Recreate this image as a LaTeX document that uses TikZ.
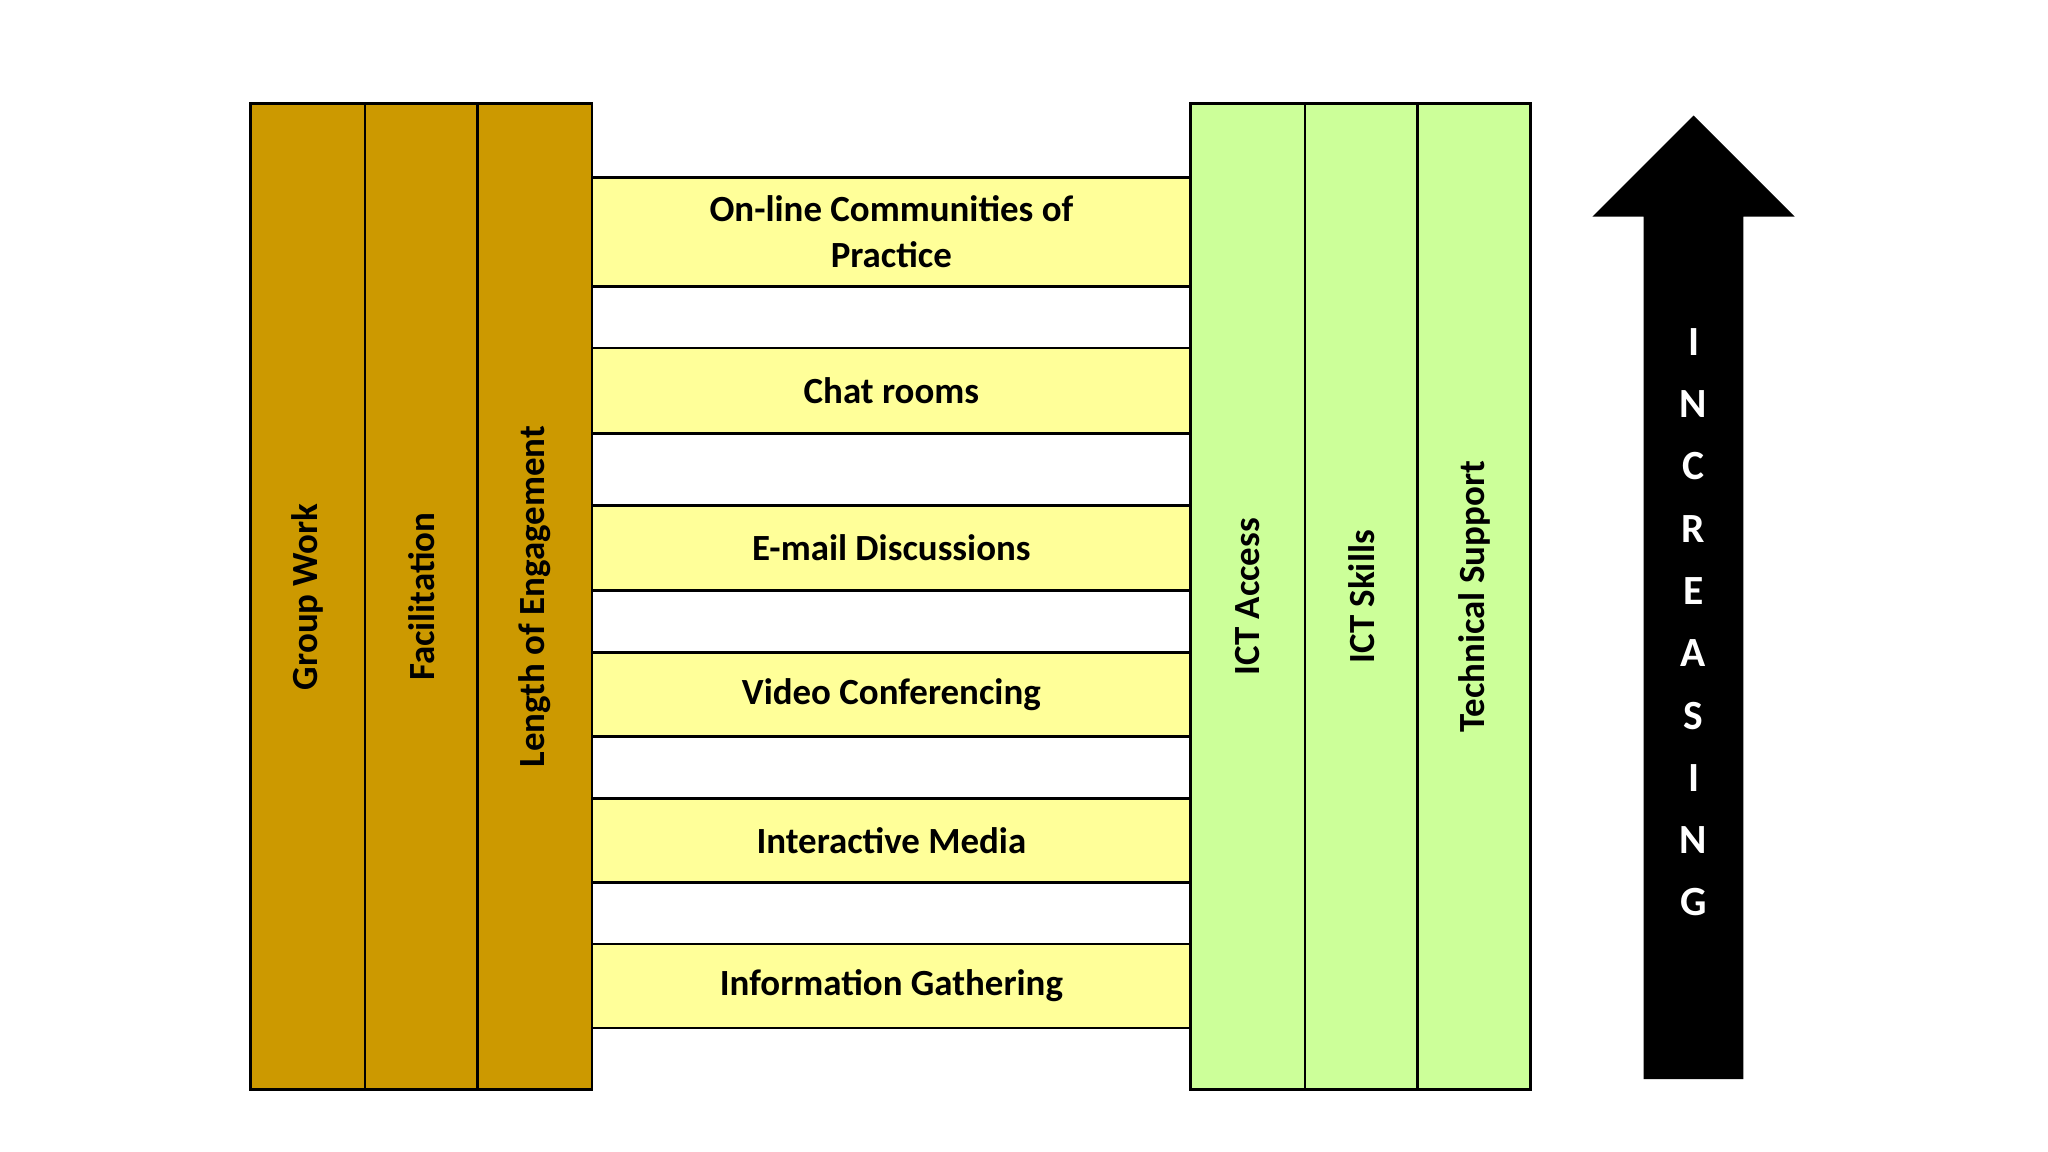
\documentclass[tikz,border=0pt]{standalone}
\usepackage{fontspec}
\setmainfont{Carlito}
\begin{document}
\begin{tikzpicture}[x=0.02cm,y=-0.02cm,
  lcol/.style={draw=black,line width=1.2pt,fill={rgb,255:red,204;green,153;blue,0}},
  rcol/.style={draw=black,line width=1.2pt,fill={rgb,255:red,204;green,255;blue,153}},
  band/.style={draw=black,line width=1.2pt,fill={rgb,255:red,255;green,255;blue,153}},
  lbl/.style={font=\fontsize{16}{20}\selectfont\bfseries,align=center},
  vl/.style={lbl,rotate=90}]
\useasboundingbox (0,0) rectangle (1560,877.5);
\fill[white] (0,0) rectangle (1560,877.5);
% bands
\foreach \a/\b in {218/265,330/385,450/497,561/608,672/719}
  \draw[line width=1.2pt] (451,\a) -- (907,\a) (451,\b) -- (907,\b);
\draw[band] (451,135) rectangle (907,218) node[midway,lbl] (b1) {On-line Communities of\\Practice};
\draw[band] (451,265) rectangle (907,330) node[midway,lbl] (b2) {Chat rooms};
\draw[band] (451,385) rectangle (907,450) node[midway,lbl] (b3) {E-mail Discussions};
\draw[band] (451,497) rectangle (907,561) node[midway,lbl] (b4) {Video Conferencing};
\draw[band] (451,608) rectangle (907,672) node[midway,lbl] (b5) {Interactive Media};
\draw[band] (451,719) rectangle (907,783) node[midway,lbl] (b6) {Information Gathering};
% left columns
\draw[lcol] (191,79) rectangle (278,830) node[midway,vl] (l1) {Group Work};
\draw[lcol] (278,79) rectangle (364,830) node[midway,vl] (l2) {Facilitation};
\draw[lcol] (364,79) rectangle (451,830) node[midway,vl] (l3) {Length of Engagement};
% right columns
\draw[rcol] (907,79) rectangle (994,830) node[midway,vl] (r1) {ICT Access};
\draw[rcol] (994,79) rectangle (1080,830) node[midway,vl] (r2) {ICT Skills};
\draw[rcol] (1080,79) rectangle (1166,830) node[midway,vl] (r3) {Technical Support};
% arrow
\fill[black] (1252,822) -- (1252,165) -- (1213,165) -- (1290,88) -- (1367,165) -- (1328,165) -- (1328,822) -- cycle;
\node[white,font=\fontsize{18}{22}\selectfont\bfseries,align=center,inner sep=0pt] (inc) at (1290,474)
  {I\\[5pt]N\\[5pt]C\\[5pt]R\\[5pt]E\\[5pt]A\\[5pt]S\\[5pt]I\\[5pt]N\\[5pt]G};
\end{tikzpicture}
\end{document}
